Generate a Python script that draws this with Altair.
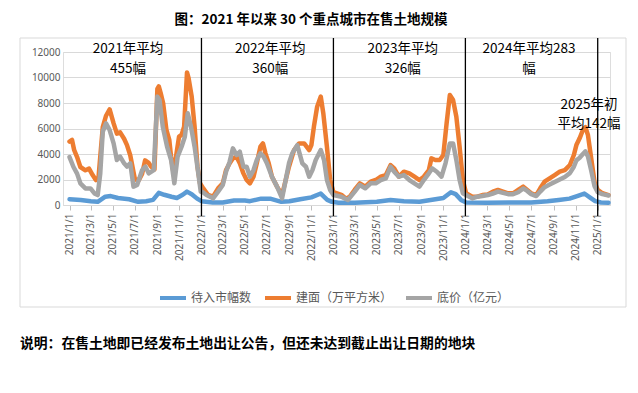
import altair as alt
import pandas as pd

S_COUNT = "待入市幅数"
S_AREA = "建面（万平方米）"
S_PRICE = "底价（亿元）"

TITLE = "图：2021 年以来 30 个重点城市在售土地规模"
NOTE = "说明：在售土地即已经发布土地出让公告，但还未达到截止出让日期的地块"

area_dates = [
    "2021-01-01", "2021-01-08", "2021-01-14", "2021-01-22", "2021-01-31", "2021-02-14", "2021-02-24",
    "2021-03-06", "2021-03-15", "2021-03-22", "2021-03-27", "2021-04-03", "2021-04-12", "2021-04-22",
    "2021-05-03", "2021-05-12", "2021-05-21", "2021-06-01", "2021-06-09", "2021-06-18", "2021-07-01",
    "2021-07-12", "2021-07-21", "2021-07-29", "2021-08-08", "2021-08-15", "2021-08-24", "2021-09-01",
    "2021-09-05", "2021-09-10", "2021-09-17", "2021-09-26", "2021-10-04", "2021-10-09", "2021-10-16",
    "2021-10-24", "2021-10-31", "2021-11-07", "2021-11-14", "2021-11-22", "2021-11-26", "2021-12-05",
    "2021-12-13", "2021-12-21", "2021-12-28",
    "2022-01-06", "2022-01-19", "2022-02-02", "2022-02-16", "2022-03-01", "2022-03-10", "2022-03-20",
    "2022-03-29", "2022-04-08", "2022-04-17", "2022-04-27", "2022-05-06", "2022-05-15", "2022-05-25",
    "2022-06-03", "2022-06-13", "2022-06-20", "2022-06-27", "2022-07-06", "2022-07-15", "2022-07-29",
    "2022-08-12", "2022-08-22", "2022-08-31", "2022-09-14", "2022-09-28", "2022-10-12", "2022-10-26",
    "2022-11-01", "2022-11-08", "2022-11-17", "2022-11-27", "2022-12-04", "2022-12-14", "2022-12-23",
    "2023-01-01", "2023-01-23", "2023-02-05", "2023-02-15", "2023-03-01", "2023-03-15", "2023-03-30",
    "2023-04-14", "2023-04-28", "2023-05-12", "2023-05-26", "2023-06-08", "2023-06-18", "2023-07-01",
    "2023-07-15", "2023-07-30", "2023-08-13", "2023-08-27", "2023-09-08", "2023-09-22", "2023-09-29",
    "2023-10-10", "2023-10-22", "2023-11-01", "2023-11-10", "2023-11-19", "2023-11-28", "2023-12-07",
    "2023-12-16", "2023-12-25",
    "2024-01-03", "2024-01-20", "2024-02-03", "2024-02-17", "2024-03-03", "2024-03-17", "2024-03-31",
    "2024-04-14", "2024-04-28", "2024-05-12", "2024-05-26", "2024-06-09", "2024-06-20", "2024-07-01",
    "2024-07-15", "2024-07-26", "2024-08-07", "2024-08-21", "2024-09-04", "2024-09-18", "2024-10-02",
    "2024-10-16", "2024-10-27", "2024-11-03", "2024-11-12", "2024-11-21", "2024-11-28", "2024-12-05",
    "2024-12-14", "2024-12-23", "2025-01-01", "2025-01-14", "2025-01-31",
]
area_vals = [
    4970, 5100, 4300, 3760, 2980, 2720, 2850,
    2350, 1960, 2090, 3760, 6100, 7000, 7500,
    6400, 5600, 5700, 5200, 4700, 3900, 2000,
    1960, 2460, 3500, 3300, 3000, 2800, 9100,
    9300, 8800, 7970, 5900, 5100, 3760, 2460,
    4050, 5360, 5500, 6140, 10400, 10000, 8500,
    6140, 3000, 1700,
    1300, 800, 650, 1310, 1700, 2740, 3270,
    3660, 3790, 3270, 2480, 1960, 1700, 2220,
    3270, 4570, 4830, 4050, 3270, 2220, 1440,
    780, 1960, 3000, 4310, 4830, 4830, 4310,
    4700, 6140, 7710, 8500, 7190, 4570, 1960,
    1000, 800, 500, 650, 1200, 1700, 1440,
    1830, 1960, 2220, 2350, 3130, 2870, 2220,
    2610, 2480, 2220, 1960, 2220, 2740, 3660,
    3530, 3530, 3920, 6400, 8620, 8230, 6920,
    4570, 1960,
    920, 650, 650, 780, 830, 1050, 1180,
    1050, 920, 920, 1180, 1440, 1180, 920,
    780, 1310, 1830, 2090, 2350, 2610, 2740,
    3140, 3920, 4700, 5230, 5880, 6100, 5490,
    3660, 1830, 1180, 920, 780,
]

price_dates = [
    "2021-01-01", "2021-01-12", "2021-01-22", "2021-01-31", "2021-02-14", "2021-02-28", "2021-03-11",
    "2021-03-20", "2021-03-27", "2021-04-03", "2021-04-12", "2021-04-22", "2021-05-03", "2021-05-12",
    "2021-05-21", "2021-06-01", "2021-06-09", "2021-06-18", "2021-06-27", "2021-07-07", "2021-07-21",
    "2021-07-30", "2021-08-08", "2021-08-22", "2021-09-01", "2021-09-07", "2021-09-16", "2021-09-28",
    "2021-10-09", "2021-10-18", "2021-10-27", "2021-11-07", "2021-11-16", "2021-11-24", "2021-12-03",
    "2021-12-13", "2021-12-22", "2021-12-30",
    "2022-01-05", "2022-01-15", "2022-02-02", "2022-02-16", "2022-03-01", "2022-03-10", "2022-03-20",
    "2022-03-29", "2022-04-08", "2022-04-17", "2022-04-27", "2022-05-06", "2022-05-15", "2022-05-25",
    "2022-06-03", "2022-06-13", "2022-06-22", "2022-07-01", "2022-07-15", "2022-07-29", "2022-08-12",
    "2022-08-22", "2022-08-31", "2022-09-09", "2022-09-23", "2022-10-07", "2022-10-17", "2022-10-26",
    "2022-11-04", "2022-11-13", "2022-11-27", "2022-12-06", "2022-12-14", "2022-12-23",
    "2023-01-01", "2023-01-23", "2023-02-10", "2023-03-01", "2023-03-15", "2023-03-30", "2023-04-14",
    "2023-04-28", "2023-05-12", "2023-05-26", "2023-06-08", "2023-06-18", "2023-07-01", "2023-07-15",
    "2023-07-30", "2023-08-13", "2023-08-27", "2023-09-08", "2023-09-22", "2023-10-01", "2023-10-14",
    "2023-10-27", "2023-11-07", "2023-11-19", "2023-11-28", "2023-12-07", "2023-12-16", "2023-12-25",
    "2024-01-03", "2024-01-20", "2024-02-03", "2024-02-17", "2024-03-03", "2024-03-17", "2024-03-31",
    "2024-04-14", "2024-04-28", "2024-05-12", "2024-05-26", "2024-06-09", "2024-06-20", "2024-07-01",
    "2024-07-15", "2024-07-26", "2024-08-07", "2024-08-21", "2024-09-04", "2024-09-18", "2024-10-02",
    "2024-10-16", "2024-10-27", "2024-11-03", "2024-11-12", "2024-11-21", "2024-11-28", "2024-12-05",
    "2024-12-14", "2024-12-23", "2025-01-01", "2025-01-14", "2025-01-31",
]
price_vals = [
    3760, 2980, 2460, 1700, 1300, 1300, 910,
    780, 2460, 5750, 6400, 5880, 4830, 3530,
    3790, 3270, 3010, 3270, 1440, 1570, 2740,
    3010, 2480, 2740, 8500, 8230, 6140, 4570,
    3530, 1700, 3790, 4570, 5350, 7190, 6140,
    4570, 2740, 1050,
    1000, 780, 520, 1050, 1570, 2610, 3400,
    4440, 3920, 4180, 3000, 3000, 2220, 2740,
    3530, 4050, 3790, 3270, 2220, 1440, 520,
    1960, 3270, 4050, 4700, 3270, 3000, 2220,
    2740, 3530, 4310, 3530, 1960, 1180,
    780, 650, 390, 1050, 1570, 1310, 1700,
    1700, 1960, 2090, 3000, 2610, 2220, 2350,
    1960, 1700, 1440, 1960, 2480, 2870, 2610,
    2220, 3270, 4830, 4830, 3530, 1960, 920,
    780, 520, 650, 700, 780, 900, 1050,
    950, 850, 850, 1000, 1300, 1100, 850,
    700, 1050, 1400, 1600, 1800, 2000, 2200,
    2500, 3000, 3500, 3700, 4000, 4200, 3800,
    2700, 1500, 1000, 850, 750,
]

count_dates = [
    "2021-01-01", "2021-02-01", "2021-03-01", "2021-03-20", "2021-04-10", "2021-04-25", "2021-05-15",
    "2021-06-15", "2021-07-10", "2021-08-01", "2021-08-20", "2021-09-05", "2021-09-20", "2021-10-10",
    "2021-10-25", "2021-11-10", "2021-11-22", "2021-12-05", "2021-12-20",
    "2022-01-01", "2022-02-01", "2022-03-01", "2022-04-01", "2022-05-01", "2022-05-15", "2022-06-15",
    "2022-07-10", "2022-08-10", "2022-09-01", "2022-10-01", "2022-11-01", "2022-11-27", "2022-12-15",
    "2022-12-28",
    "2023-01-15", "2023-03-01", "2023-05-01", "2023-06-08", "2023-07-15", "2023-08-27", "2023-10-10",
    "2023-11-01", "2023-11-22", "2023-12-05", "2023-12-20",
    "2024-01-03", "2024-03-01", "2024-05-01", "2024-07-01", "2024-08-15", "2024-09-15", "2024-10-15",
    "2024-11-05", "2024-11-25", "2024-12-10", "2024-12-25", "2025-01-10", "2025-01-31",
]
count_vals = [
    450, 400, 300, 250, 650, 700, 550,
    450, 250, 300, 400, 950, 800, 650,
    550, 800, 1050, 850, 500,
    300, 200, 200, 350, 350, 300, 500,
    500, 250, 300, 450, 600, 900, 400,
    250,
    180, 180, 250, 400, 300, 250, 450,
    550, 1000, 850, 400,
    200, 180, 200, 200, 300, 400, 500,
    700, 900, 600, 300, 200, 180,
]

year_lines = ["2022-01-01", "2023-01-01", "2024-01-01", "2025-01-01"]

tick_dates = [f"{y}-{m:02d}-01" for y in range(2021, 2025) for m in (1, 3, 5, 7, 9, 11)] + ["2025-01-01"]
y_ticks = [0, 2000, 4000, 6000, 8000, 10000, 12000]

ann_text = ["2021年平均", "455幅", "2022年平均", "360幅", "2023年平均", "326幅",
            "2024年平均283", "幅", "2025年初", "平均142幅"]
ann_dates = ["2021-06-12", "2021-06-12", "2022-07-10", "2022-07-10", "2023-07-12", "2023-07-12",
             "2024-06-25", "2024-06-25", "2024-12-08", "2024-12-08"]
ann_vals = [12230, 10700, 12230, 10680, 12230, 10700, 12230, 10700, 7860, 6330]

series_order = [S_COUNT, S_AREA, S_PRICE]
series_colors = ["#5b9bd5", "#ed7d31", "#a5a5a5"]

df = pd.concat([
    pd.DataFrame({"date": count_dates, "value": count_vals, "series": S_COUNT}),
    pd.DataFrame({"date": area_dates, "value": area_vals, "series": S_AREA}),
    pd.DataFrame({"date": price_dates, "value": price_vals, "series": S_PRICE}),
], ignore_index=True)


def dt(s):
    y, m, d = (int(p) for p in s.split("-"))
    return alt.DateTime(year=y, month=m, date=d, utc=True)


x_axis = alt.Axis(
    values=[dt(s) for s in tick_dates], format="%Y/%-m/%-d", labelAngle=-90,
    title=None, grid=False, domain=True, domainColor="#d9d9d9", ticks=True,
    tickColor="#bfbfbf", tickSize=5, labelPadding=3, labelFontSize=10,
    labelColor="#595959", labelFont="Noto Sans", labelOverlap=False, labelBound=False,
)
x_scale = alt.Scale(type="utc", domain=[dt("2020-12-14"), dt("2025-02-04")])
y_axis = alt.Axis(
    values=y_ticks, format="d", title=None, grid=True, gridColor="#d9d9d9", domain=False,
    ticks=False, labelPadding=3, labelFontSize=10, labelColor="#595959",
    labelFont="Noto Sans", labelOverlap=False, labelBound=False,
)
y_scale = alt.Scale(domain=[0, 12000])

x_enc = alt.X("date:T", scale=x_scale, axis=x_axis)
y_enc = alt.Y("value:Q", scale=y_scale, axis=y_axis)

color_enc = alt.Color(
    "series:N",
    scale=alt.Scale(domain=series_order, range=series_colors),
    legend=alt.Legend(
        title=None, orient="none", legendX=95, legendY=231, direction="horizontal",
        symbolType="stroke", symbolStrokeWidth=4, symbolSize=676, labelFontSize=12,
        labelColor="#595959", labelOffset=3, columnPadding=5, padding=0,
        labelFont="Noto Sans CJK SC",
    ),
)

base = alt.Chart(df)
line_layers = [
    base.transform_filter(alt.datum.series == s)
    .mark_line(strokeWidth=4.5, strokeJoin="round", strokeCap="round")
    .encode(x=x_enc, y=y_enc, color=color_enc)
    for s in series_order
]

border = alt.Chart(pd.DataFrame({"k": [0]})).mark_rect(
    filled=False, stroke="#d9d9d9", strokeWidth=1
).encode(x=alt.value(-43), x2=alt.value(563), y=alt.value(-14), y2=alt.value(255))

rules = alt.Chart(pd.DataFrame({"date": year_lines})).mark_rule(
    color="black", strokeWidth=1.3
).encode(x=x_enc, y=alt.value(-14), y2=alt.value(164))

ann = alt.Chart(pd.DataFrame({"date": ann_dates, "value": ann_vals, "text": ann_text})).mark_text(
    fontSize=13.5, color="black", align="center", baseline="middle", font="Noto Sans CJK SC"
).encode(x=x_enc, y=y_enc, text="text:N")

title = alt.Chart(pd.DataFrame({"t": [TITLE]})).mark_text(
    fontSize=13.5, fontWeight="bold", color="black", align="center", baseline="middle",
    font="Noto Sans CJK SC"
).encode(x=alt.value(248), y=alt.value(-32), text="t:N")

note = alt.Chart(pd.DataFrame({"t": [NOTE]})).mark_text(
    fontSize=13.8, fontWeight="bold", color="black", align="left", baseline="middle",
    font="Noto Sans CJK SC"
).encode(x=alt.value(-43), y=alt.value(292), text="t:N")

chart = alt.layer(border, *line_layers, rules, ann, title, note).properties(
    width=547, height=153,
    autosize=alt.AutoSizeParams(type="none"),
    padding={"left": 55, "top": 44, "right": 20, "bottom": 180},
    background="white",
).configure_view(stroke=None).configure(font="Noto Sans CJK SC")

chart.save("out.html", embed_options={"renderer": "svg", "actions": False})
